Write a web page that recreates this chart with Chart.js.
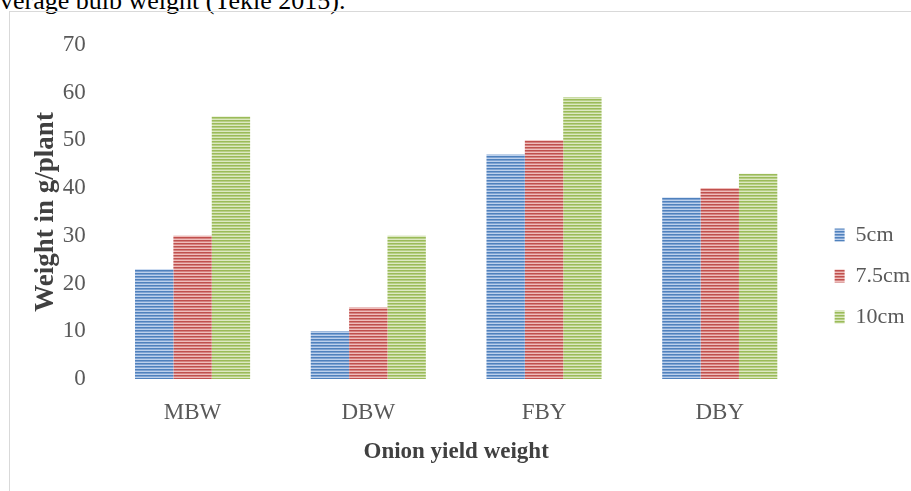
<!DOCTYPE html>
<html>
<head>
<meta charset="utf-8">
<title>Onion yield weight</title>
<script src="https://cdn.jsdelivr.net/npm/chart.js@4.4.1/dist/chart.umd.min.js"></script>
<style>
  html, body { margin:0; padding:0; width:911px; height:491px; overflow:hidden; background:#fff; }
  .caption { position:absolute; left:0; top:-12px; font:26px/26px 'Liberation Serif', serif; color:#000; white-space:nowrap; }
  .frame { position:absolute; left:9px; top:11px; width:1000px; height:600px; border-left:1px solid #d9d9d9; border-top:1px solid #d9d9d9; }
  .chart-box { position:absolute; left:10px; top:12px; width:910px; height:500px; }
</style>
</head>
<body>
<div class="caption">verage bulb weight (Tekle 2015).</div>
<div class="frame"></div>
<div class="chart-box"><canvas id="chart"></canvas></div>
<script>
/* ── Data ───────────────────────────────── */
const categories  = ['MBW', 'DBW', 'FBY', 'DBY'];
const seriesNames = ['5cm', '7.5cm', '10cm'];
const spacing5    = [23, 10, 47, 38];
const spacing7_5  = [30, 15, 50, 40];
const spacing10   = [55, 30, 59, 43];
const yMin = 0, yMax = 70, yStep = 10;

Chart.defaults.font.family = "'Liberation Serif', 'Times New Roman', serif";
const tickColor  = '#595959';
const titleColor = '#404040';

const canvas = document.getElementById('chart');
const ctx = canvas.getContext('2d');

// horizontal stripe fill like the original office-chart bars
function stripes(base, mid, light) {
  const c = document.createElement('canvas');
  c.width = 1; c.height = 3;
  const g = c.getContext('2d');
  g.fillStyle = base;  g.fillRect(0, 0, 1, 1);
  g.fillStyle = mid;   g.fillRect(0, 1, 1, 1);
  g.fillStyle = light; g.fillRect(0, 2, 1, 1);
  return ctx.createPattern(c, 'repeat');
}

const fills = [
  stripes('#4f81bd', '#7fa3d2', '#bcd0ec'),
  stripes('#c0504d', '#d58381', '#efbdbb'),
  stripes('#9bbb59', '#b7cf86', '#dce8c2'),
];
const values = [spacing5, spacing7_5, spacing10];

new Chart(canvas, {
  type: 'bar',
  data: {
    labels: categories,
    datasets: seriesNames.map((name, i) => ({
      label: name,
      data: values[i],
      backgroundColor: fills[i],
      borderWidth: 0,
      yAxisID: 'y',
      categoryPercentage: 0.655,
      barPercentage: 1,
    })),
  },
  options: {
    responsive: true,
    maintainAspectRatio: false,
    animation: false,
    layout: { padding: { top: 28, left: 0, right: 0, bottom: 0 } },
    plugins: {
      legend: {
        position: 'right',
        labels: { boxWidth: 10, boxHeight: 13, padding: 19, color: tickColor, font: { size: 22 } },
      },
      tooltip: { enabled: false },
    },
    scales: {
      x: {
        grid: { display: false, drawTicks: false },
        border: { display: false },
        ticks: { padding: 20, color: tickColor, font: { size: 23 } },
        title: { display: true, text: 'Onion yield weight', color: titleColor,
                 font: { size: 23, weight: 'bold' }, padding: { top: 0, bottom: 46 } },
        afterFit(s) { s.height = 133; },
      },
      y: {
        min: yMin, max: yMax,
        grid: { display: false, drawTicks: false },
        border: { display: false },
        ticks: { stepSize: yStep, padding: 19, color: tickColor, font: { size: 23 } },
        title: { display: true, text: 'Weight in g/plant', color: titleColor,
                 font: { size: 27, weight: 'bold' }, padding: { top: 20, bottom: 0 } },
        afterFit(s) { s.width = 94.7; },
      },
      // spacer between plot and legend
      gap: {
        position: 'right',
        grid: { display: false, drawTicks: false },
        border: { display: false },
        ticks: { display: false },
        afterFit(s) { s.width = 8; },
      },
    },
  },
});
</script>
</body>
</html>
